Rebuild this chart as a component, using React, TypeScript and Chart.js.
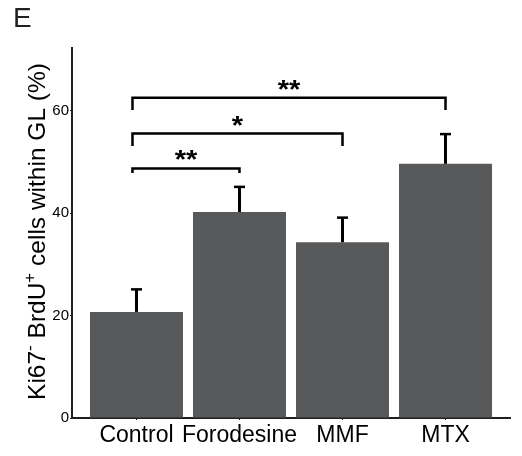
import React, { useEffect, useRef } from "react";
import { Chart, registerables } from "chart.js";

Chart.register(...registerables);

const categories = ["Control", "Forodesine", "MMF", "MTX"];
const means = [20.7, 40.2, 34.3, 49.6];
const errors = [4.4, 4.9, 4.8, 5.8];
const yTicks = [0, 20, 40, 60];
const yMax = 72.2;

const bracketFrom = [0, 0, 0];
const bracketTo = [1, 2, 3];
const bracketTop = [48.7, 55.5, 62.5];
const bracketLegEnd = [47.8, 53.1, 60.1];
const bracketLabels = ["**", "*", "**"];

const FONT = "'Liberation Sans', Arial, sans-serif";
const AXIS_COLOR = "#231f20";
const BAR_COLOR = "#58595a";

const overlayPlugin = {
  id: "overlay",
  afterDatasetsDraw(chart: any) {
    const ctx = chart.ctx as CanvasRenderingContext2D;
    const xs = chart.scales.x;
    const ys = chart.scales.y;
    ctx.save();
    // error bars (upper only)
    ctx.strokeStyle = "#000";
    means.forEach((m, i) => {
      const x = xs.getPixelForValue(i);
      const y0 = ys.getPixelForValue(m);
      const y1 = ys.getPixelForValue(m + errors[i]);
      ctx.lineWidth = 3;
      ctx.beginPath();
      ctx.moveTo(x, y0);
      ctx.lineTo(x, y1);
      ctx.stroke();
      ctx.lineWidth = 2.5;
      ctx.beginPath();
      ctx.moveTo(x - 5.5, y1);
      ctx.lineTo(x + 5.5, y1);
      ctx.stroke();
    });
    // brackets
    ctx.lineWidth = 2.5;
    ctx.lineCap = "butt";
    bracketFrom.forEach((f, i) => {
      const xa = xs.getPixelForValue(f) - 4;
      const xb = xs.getPixelForValue(bracketTo[i]);
      const yt = ys.getPixelForValue(bracketTop[i]);
      const yl = ys.getPixelForValue(bracketLegEnd[i]);
      ctx.beginPath();
      ctx.moveTo(xa, yl);
      ctx.lineTo(xa, yt);
      ctx.lineTo(xb, yt);
      ctx.lineTo(xb, yl);
      ctx.stroke();
      ctx.save();
      ctx.font = `bold 26px ${FONT}`;
      ctx.fillStyle = "#000";
      ctx.textAlign = "center";
      ctx.textBaseline = "alphabetic";
      const mt = ctx.measureText(bracketLabels[i]);
      const asc = mt.actualBoundingBoxAscent;
      const desc = mt.actualBoundingBoxDescent;
      const cy = yt - 13;
      ctx.translate((xa + xb) / 2, cy + (asc - desc) / 2);
      ctx.scale(1.12, 1);
      ctx.fillText(bracketLabels[i], 0, 0);
      ctx.restore();
    });
    ctx.restore();
  },
  afterDraw(chart: any) {
    const ctx = chart.ctx as CanvasRenderingContext2D;
    ctx.save();
    // panel letter
    ctx.fillStyle = AXIS_COLOR;
    ctx.font = `28px ${FONT}`;
    ctx.textAlign = "left";
    ctx.textBaseline = "alphabetic";
    ctx.fillText("E", 13, 27);
    // y title with superscripts
    const parts: [string, boolean][] = [
      ["Ki67", false],
      ["-", true],
      [" BrdU", false],
      ["+", true],
      [" cells within GL (%)", false],
    ];
    const mainFont = `24.5px ${FONT}`;
    const supFont = `17px ${FONT}`;
    let total = 0;
    parts.forEach(([t, sup]) => {
      ctx.font = sup ? supFont : mainFont;
      total += ctx.measureText(t).width;
    });
    ctx.translate(45, 231.5);
    ctx.rotate(-Math.PI / 2);
    ctx.fillStyle = "#000";
    let x = -total / 2;
    parts.forEach(([t, sup]) => {
      ctx.font = sup ? supFont : mainFont;
      ctx.fillText(t, x, sup ? -10 : 0);
      x += ctx.measureText(t).width;
    });
    ctx.restore();
  },
};

export default function App() {
  const ref = useRef<HTMLCanvasElement>(null);
  useEffect(() => {
    if (!ref.current) return;
    const chart = new Chart(ref.current, {
      type: "bar",
      data: {
        datasets: [
          {
            data: means.map((v, i) => ({ x: i, y: v })),
            backgroundColor: BAR_COLOR,
            borderWidth: 0,
            barPercentage: 0.903,
            categoryPercentage: 1,
          },
        ],
      },
      options: {
        animation: false,
        responsive: true,
        maintainAspectRatio: false,
        layout: { padding: { top: 48, right: 12, left: 0, bottom: 0 } },
        plugins: { legend: { display: false }, tooltip: { enabled: false }, title: { display: false } },
        scales: {
          x: {
            type: "linear",
            min: -0.626,
            max: 3.626,
            offset: false,
            afterBuildTicks: (s: any) => {
              s.ticks = categories.map((_, i) => ({ value: i }));
            },
            afterFit: (s: any) => {
              s.height = 38;
            },
            ticks: {
              callback: (v: any) => categories[Math.round(Number(v))] ?? "",
              font: { family: FONT, size: 23 },
              color: "#000",
              padding: 2,
              maxRotation: 0,
              autoSkip: false,
            },
            grid: { display: true, drawOnChartArea: false, drawTicks: true, tickLength: 2, color: AXIS_COLOR, offset: false },
            border: { display: true, color: AXIS_COLOR, width: 2 },
          },
          y: {
            min: 0,
            max: yMax,
            afterBuildTicks: (s: any) => {
              s.ticks = yTicks.map((v) => ({ value: v }));
            },
            afterFit: (s: any) => {
              s.width = 72;
            },
            ticks: {
              font: { family: FONT, size: 15 },
              color: "#000",
              padding: 1,
            },
            grid: { display: true, drawOnChartArea: false, drawTicks: true, tickLength: 2, color: AXIS_COLOR },
            border: { display: true, color: AXIS_COLOR, width: 2 },
          },
        },
      },
      plugins: [overlayPlugin],
    });
    return () => chart.destroy();
  }, []);
  return (
    <div style={{ position: "fixed", left: 0, top: 0, width: 522, height: 456, background: "#fff" }}>
      <canvas ref={ref} />
    </div>
  );
}
